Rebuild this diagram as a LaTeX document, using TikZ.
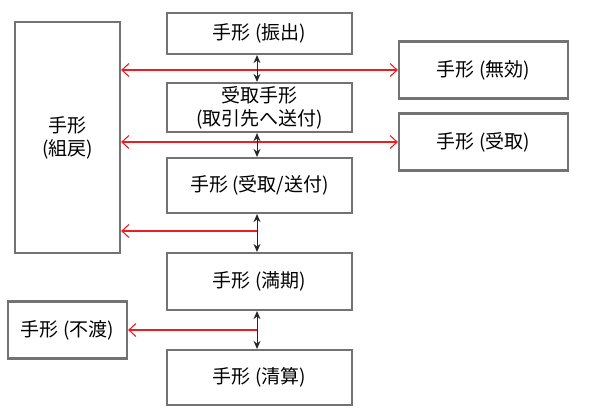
\documentclass[tikz,border=0pt]{standalone}
\usepackage{fontspec}
\setmainfont{Noto Sans CJK JP}
\usepackage{tikz}
\usetikzlibrary{arrows.meta}
\definecolor{boxgray}{RGB}{115,115,115}
\definecolor{linkred}{RGB}{235,30,35}
\tikzset{
    tegata/.style={draw=boxgray, line width=2.2pt, fill=white, align=center,
        inner sep=0pt, font=\fontsize{19}{23}\selectfont},
    flow/.style={{Stealth[length=8pt,width=7pt]}-{Stealth[length=8pt,width=7pt]}, line width=1pt, black!85},
    redlink/.style={-{Straight Barb[length=7pt,width=13pt]}, line width=1.1pt, linkred},
    redboth/.style={{Straight Barb[length=7pt,width=13pt]}-{Straight Barb[length=7pt,width=13pt]}, line width=1.1pt, linkred}
}

\begin{document}
\begin{tikzpicture}[x=1pt, y=-1pt]
    \useasboundingbox (0,0) rectangle (597,408);

    % main column
    \node[tegata, minimum width=185pt, minimum height=41pt] (furi) at (259.5,33.5) {手形 (振出)};
    \node[tegata, minimum width=185pt, minimum height=49pt] (sofu) at (259.5,107.5) {受取手形\\(取引先へ送付)};
    \node[tegata, minimum width=185pt, minimum height=55pt] (ukeso) at (259.5,185.5) {手形 (受取/送付)};
    \node[tegata, minimum width=185pt, minimum height=57pt] (manki) at (259.5,281.5) {手形 (満期)};
    \node[tegata, minimum width=185pt, minimum height=55pt] (seisan) at (259.5,377.5) {手形 (清算)};

    % side boxes
    \node[tegata, minimum width=105pt, minimum height=231pt] (kumi) at (67.5,137.5) {手形\\(組戻)};
    \node[tegata, minimum width=169pt, minimum height=57pt] (muko) at (483.5,70) {手形 (無効)};
    \node[tegata, minimum width=169pt, minimum height=57pt] (uke) at (483.5,142) {手形 (受取)};
    \node[tegata, minimum width=119pt, minimum height=57pt] (fuwa) at (67.5,330) {手形 (不渡)};

    % red links
    \draw[redboth] (kumi.east |- muko.west) -- (muko.west);
    \draw[redboth] (kumi.east |- uke.west) -- (uke.west);
    \coordinate (j1) at (257,231);
    \coordinate (j2) at (257,330);
    \draw[redlink] (j1) -- (kumi.east |- j1);
    \draw[redlink] (j2) -- (fuwa.east |- j2);

    % flow arrows
    \draw[flow] ([xshift=-2.5pt]furi.south) -- ([xshift=-2.5pt]sofu.north);
    \draw[flow] ([xshift=-2.5pt]sofu.south) -- ([xshift=-2.5pt]ukeso.north);
    \draw[flow] ([xshift=-2.5pt]ukeso.south) -- ([xshift=-2.5pt]manki.north);
    \draw[flow] ([xshift=-2.5pt]manki.south) -- ([xshift=-2.5pt]seisan.north);
\end{tikzpicture}
\end{document}
